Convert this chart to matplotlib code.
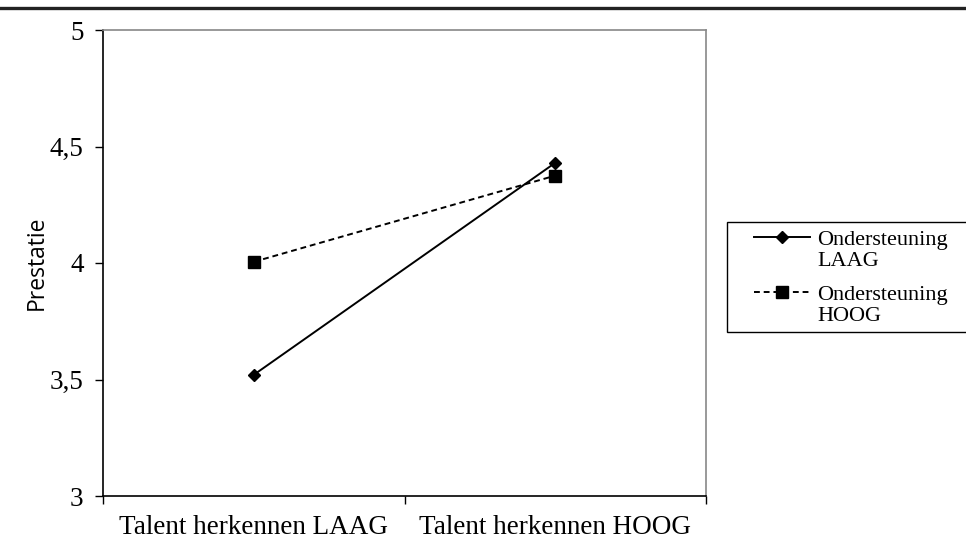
import matplotlib
matplotlib.use("Agg")
import matplotlib.pyplot as plt
from matplotlib.lines import Line2D
from matplotlib.patches import Rectangle

categories = ["Talent herkennen LAAG", "Talent herkennen HOOG"]
series_names = [["Ondersteuning", "LAAG"], ["Ondersteuning", "HOOG"]]
laag_values = [3.52, 4.43]
hoog_values = [4.005, 4.375]
y_ticks = [3, 3.5, 4, 4.5, 5]
y_tick_labels = ["3", "3,5", "4", "4,5", "5"]

W, H = 966, 542
fig = plt.figure(figsize=(W / 100, H / 100), dpi=100)
fig.patch.set_facecolor("white")

# top rule
fig.add_artist(Line2D([0, 1], [1 - 8 / H, 1 - 8 / H], transform=fig.transFigure,
                      color="#222222", linewidth=2.4))

ax = fig.add_axes([103 / W, 1 - 496 / H, 603 / W, 466 / H])
x = list(range(len(categories)))
styles = [
    dict(linestyle="-", marker="D", markersize=6),
    dict(linestyle=(0, (3, 2)), marker="s", markersize=8),
]
for vals, st in zip([laag_values, hoog_values], styles):
    ax.plot(x, vals, color="black", linewidth=1.4, **st)

ax.set_xlim(-0.5, 1.5)
ax.set_ylim(3, 5)
serif = ["Liberation Serif", "DejaVu Serif"]

ax.set_yticks(y_ticks)
ax.set_yticklabels(y_tick_labels, fontfamily=serif, fontsize=19.5)
ax.set_xticks([-0.5, 0.5, 1.5])
ax.set_xticklabels([])
ax.set_xticks(x, minor=True)
ax.set_xticklabels(categories, minor=True, fontfamily=serif, fontsize=19.5)
ax.tick_params(axis="x", which="minor", length=0, pad=14)
ax.tick_params(axis="x", which="major", length=6, direction="out", color="black", width=1)
ax.tick_params(axis="y", length=6, direction="out", color="black", width=1, pad=8)

for side in ["left", "bottom"]:
    ax.spines[side].set_color("black")
    ax.spines[side].set_linewidth(1.2)
for side in ["top", "right"]:
    ax.spines[side].set_color("#888888")
    ax.spines[side].set_linewidth(1.2)

ax.set_ylabel("Prestatie", fontfamily=["Open Sans", "DejaVu Sans"], fontsize=16.5, labelpad=1)

# legend (drawn manually; frame extends past the right edge of the figure)
fig.add_artist(Rectangle((727 / W, 1 - 332 / H), 300 / W, 110 / H,
                         transform=fig.transFigure, facecolor="white",
                         edgecolor="black", linewidth=1.0, zorder=1))
entry_y = [237, 292]
for (l1, l2), st, ey in zip(series_names, styles, entry_y):
    yy = 1 - ey / H
    fig.add_artist(Line2D([754 / W, 810 / W], [yy, yy], transform=fig.transFigure,
                          color="black", linewidth=1.4, zorder=2,
                          linestyle=st["linestyle"]))
    fig.add_artist(Line2D([782 / W], [yy], transform=fig.transFigure, color="black",
                          marker=st["marker"], markersize=st["markersize"],
                          linestyle="none", zorder=3))
    fig.text(817 / W, 1 - (ey + 8) / H, l1, fontfamily=serif, fontsize=16,
             va="baseline", ha="left", zorder=3)
    fig.text(817 / W, 1 - (ey + 29) / H, l2, fontfamily=serif, fontsize=16,
             va="baseline", ha="left", zorder=3)

fig.savefig("out.png", dpi=100, facecolor="white")
